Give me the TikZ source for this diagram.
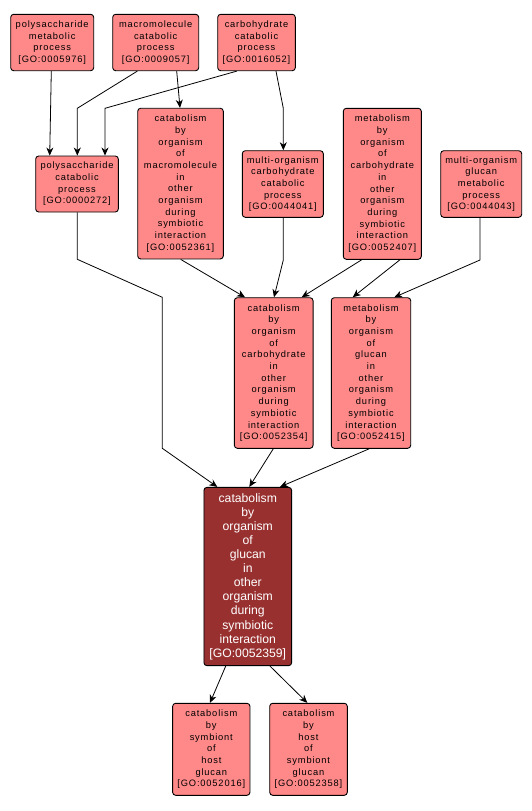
\documentclass[tikz,border=0pt]{standalone}
\usepackage{fontspec}
\setmainfont{Liberation Sans}
\newfontfamily\lsfont[LetterSpace=9]{Liberation Sans}
\usetikzlibrary{arrows.meta}
\definecolor{lightnode}{RGB}{255,137,137}
\definecolor{darknode}{RGB}{153,48,48}
\tikzset{
  lt/.style={draw=black, line width=0.9pt, fill=lightnode, rounded corners=3pt, inner sep=0pt, align=center,
    font=\lsfont\fontsize{9.3}{11.7}\selectfont, text=black},
  dk/.style={draw=black, line width=0.9pt, fill=darknode, rounded corners=3pt, inner sep=0pt, align=center,
    font=\fontsize{12.2}{14.1}\selectfont, text=white},
  edge/.style={draw=black, line width=0.8pt, -{Stealth[length=8pt,width=7pt,inset=2.5pt]}}
}
\begin{document}
\begin{tikzpicture}[x=1pt,y=-1pt]
\useasboundingbox[fill=white] (0,0) rectangle (532,811);
% top row
\node[lt, minimum width=83pt, minimum height=56.4pt] (n5976) at (52.2,42.5) {polysaccharide\\metabolic\\process\\{}[GO:0005976]};
\node[lt, minimum width=86pt, minimum height=56.4pt] (n9057) at (155.7,42.5) {macromolecule\\catabolic\\process\\{}[GO:0009057]};
\node[lt, minimum width=77.6pt, minimum height=56.4pt] (n16052) at (256.5,42.5) {carbohydrate\\catabolic\\process\\{}[GO:0016052]};
% second row
\node[lt, minimum width=82.6pt, minimum height=56pt] (n272) at (77,184) {polysaccharide\\catabolic\\process\\{}[GO:0000272]};
\node[lt, minimum width=85.6pt, minimum height=150.7pt] (n52361) at (180.5,183.6) {catabolism\\by\\organism\\of\\macromolecule\\in\\other\\organism\\during\\symbiotic\\interaction\\{}[GO:0052361]};
\node[lt, minimum width=81pt, minimum height=66.6pt] (n44041) at (282.8,184) {multi-organism\\carbohydrate\\catabolic\\process\\{}[GO:0044041]};
\node[lt, minimum width=78pt, minimum height=151pt] (n52407) at (382.3,183.8) {metabolism\\by\\organism\\of\\carbohydrate\\in\\other\\organism\\during\\symbiotic\\interaction\\{}[GO:0052407]};
\node[lt, minimum width=81pt, minimum height=66.6pt] (n44043) at (481.2,184) {multi-organism\\glucan\\metabolic\\process\\{}[GO:0044043]};
% third row
\node[lt, minimum width=78.7pt, minimum height=150.6pt] (n52354) at (273.7,373) {catabolism\\by\\organism\\of\\carbohydrate\\in\\other\\organism\\during\\symbiotic\\interaction\\{}[GO:0052354]};
\node[lt, minimum width=79.4pt, minimum height=150.6pt] (n52415) at (371,373) {metabolism\\by\\organism\\of\\glucan\\in\\other\\organism\\during\\symbiotic\\interaction\\{}[GO:0052415]};
% main node
\node[dk, minimum width=87.7pt, minimum height=178.3pt] (n52359) at (247.8,576.5) {catabolism\\by\\organism\\of\\glucan\\in\\other\\organism\\during\\symbiotic\\interaction\\{}[GO:0052359]};
% bottom row
\node[lt, minimum width=77.3pt, minimum height=92pt] (n52016) at (211.3,749.3) {catabolism\\by\\symbiont\\of\\host\\glucan\\{}[GO:0052016]};
\node[lt, minimum width=77.6pt, minimum height=92pt] (n52358) at (308.5,749.3) {catabolism\\by\\host\\of\\symbiont\\glucan\\{}[GO:0052358]};
% bend points
\coordinate (b1) at (77.3,108.3);
\coordinate (b2) at (105,108.3);
\coordinate (b3) at (283.3,108.3);
\coordinate (c1) at (77.3,259.3);
\coordinate (c2) at (162.3,297.3);
\coordinate (c3) at (162.3,448.3);
\coordinate (c4) at (283.3,260);
\coordinate (c5) at (480,260);
% edges
\draw[edge] ([xshift=-0.9pt]n5976.south) -- ([xshift=-27.3pt]n272.north);
\draw[edge] ([xshift=-18.4pt]n9057.south) -- (b1) -- ([xshift=0.3pt]n272.north);
\draw[edge] ([xshift=-19.8pt]n16052.south) -- (b2) -- ([xshift=28pt]n272.north);
\draw[edge] ([xshift=21pt]n9057.south) -- ([xshift=-0.5pt]n52361.north);
\draw[edge] ([xshift=19.5pt]n16052.south) -- (b3) -- ([xshift=0.5pt]n44041.north);
\draw[edge] ([xshift=0.3pt]n272.south) -- (c1) -- (c2) -- (c3) -- ([xshift=-30.5pt]n52359.north);
\draw[edge] ([xshift=0.2pt]n52361.south) -- ([xshift=-28.7pt]n52354.north);
\draw[edge] ([xshift=0.5pt]n44041.south) -- (c4) -- ([xshift=0.3pt]n52354.north);
\draw[edge] ([xshift=-20.6pt]n52407.south) -- ([xshift=28pt]n52354.north);
\draw[edge] ([xshift=17.7pt]n52407.south) -- ([xshift=-18.3pt]n52415.north);
\draw[edge] ([xshift=-1.2pt]n44043.south) -- (c5) -- ([xshift=23.3pt]n52415.north);
\draw[edge] ([xshift=-0.4pt]n52354.south) -- ([xshift=1.5pt]n52359.north);
\draw[edge] ([xshift=-1.7pt]n52415.south) -- ([xshift=32.2pt]n52359.north);
\draw[edge] ([xshift=-22.1pt]n52359.south) -- ([xshift=-1.3pt]n52016.north);
\draw[edge] ([xshift=22.2pt]n52359.south) -- ([xshift=-1.2pt]n52358.north);
\end{tikzpicture}
\end{document}
